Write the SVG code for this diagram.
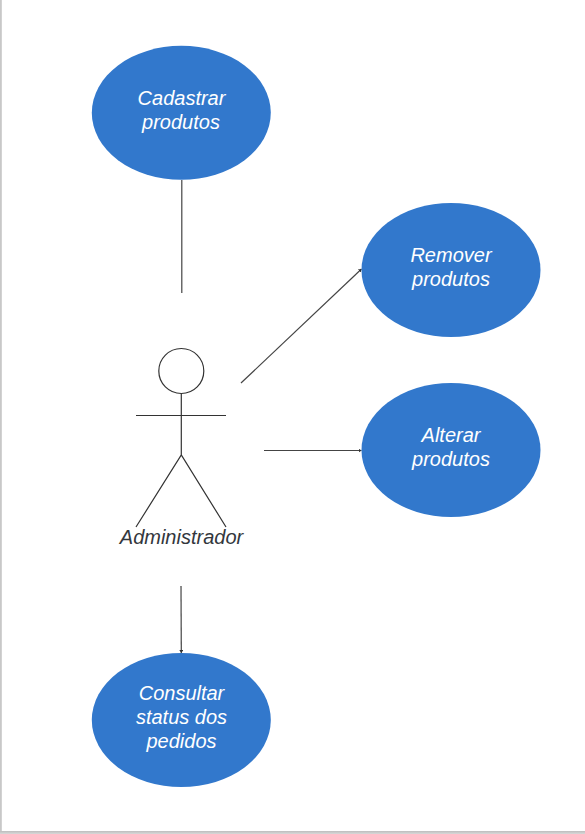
<svg xmlns="http://www.w3.org/2000/svg" width="585" height="834" viewBox="0 0 585 834">
<style>
.uc{fill:#3278cc}
.ut{font:italic 20px "Liberation Sans",Arial,sans-serif;fill:#fff;text-anchor:middle}
.ln{stroke:#333;stroke-width:1.200;fill:none}
.cn{stroke:#444;stroke-width:1.200;fill:none}
.al{font:italic 20px "Liberation Sans",Arial,sans-serif;fill:#33373d;text-anchor:middle}
</style>
<defs>
<marker id="arr" markerUnits="userSpaceOnUse" markerWidth="4" markerHeight="4" refX="3" refY="2" orient="auto"><path d="M0 0L3 2L0 4Z" fill="#333"/></marker>
<linearGradient id="sb" x1="0" y1="0" x2="0" y2="1"><stop offset="0" stop-color="#bdbdbd"/><stop offset="1" stop-color="#d8d8d8"/></linearGradient>
</defs>
<rect id="page-shadow" width="585" height="834" fill="#fff"/>
<rect x="0" y="0" width="1.800" height="834" fill="#c8c8c8"/>
<rect x="0" y="831" width="585" height="3" fill="url(#sb)"/>
<g id="connectors">
<path class="cn" d="M181.800 180V293"/>
<path class="cn" d="M241 383L361.500 269" marker-end="url(#arr)"/>
<path class="cn" d="M264 450.500H361.500" marker-end="url(#arr)"/>
<path class="cn" d="M181 586L181.300 653" marker-end="url(#arr)"/>
</g>
<g id="uc-cadastrar"><ellipse class="uc" cx="181.300" cy="112.800" rx="89.500" ry="67"/>
<text class="ut" x="181.500" y="105">Cadastrar</text><text class="ut" x="181" y="129">produtos</text></g>
<g id="uc-remover"><ellipse class="uc" cx="451" cy="270" rx="89.500" ry="67"/>
<text class="ut" x="451" y="262">Remover</text><text class="ut" x="451" y="286">produtos</text></g>
<g id="uc-alterar"><ellipse class="uc" cx="451" cy="450" rx="89.500" ry="67"/>
<text class="ut" x="451" y="442">Alterar</text><text class="ut" x="451" y="466">produtos</text></g>
<g id="uc-consultar"><ellipse class="uc" cx="181.300" cy="720" rx="89.500" ry="67"/>
<text class="ut" x="181.500" y="700">Consultar</text><text class="ut" x="181.500" y="724">status dos</text><text class="ut" x="181.500" y="748">pedidos</text></g>
<g id="actor-administrador">
<circle class="ln" cx="181.300" cy="371" r="22.500"/>
<path class="ln" d="M181.300 393.500V455M136 415.500H226M136 527L181.300 455L226 527"/>
<text class="al" x="181.500" y="543.500">Administrador</text>
</g>
</svg>
